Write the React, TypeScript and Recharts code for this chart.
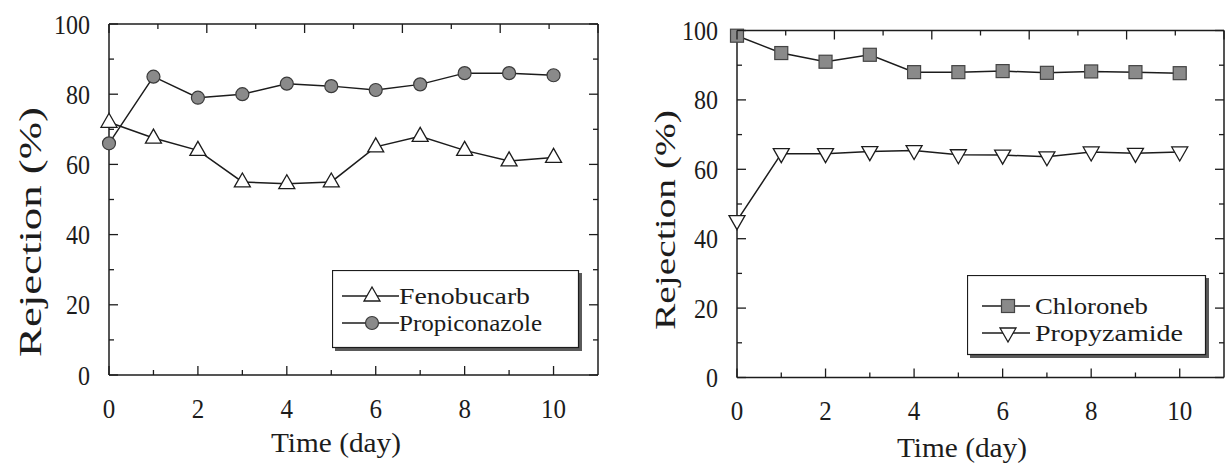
import React from "react";
import { LineChart, Line, XAxis, YAxis, Legend } from "recharts";

// rejection (%) per day of operation
const days = [0, 1, 2, 3, 4, 5, 6, 7, 8, 9, 10];
const fenobucarb = [72, 67.5, 64, 55, 54.5, 55, 65, 68, 64, 61, 62];
const propiconazole = [66, 85, 79, 80, 83, 82.3, 81.2, 82.8, 86, 86, 85.4];
const chloroneb = [98.5, 93.5, 91, 93, 88, 88, 88.3, 87.8, 88.2, 88, 87.7];
const propyzamide = [45.2, 64.5, 64.5, 65.1, 65.4, 64.2, 64.1, 63.6, 65, 64.6, 65];

const xTicks = [0, 1, 2, 3, 4, 5, 6, 7, 8, 9, 10];
const yTicks = [0, 10, 20, 30, 40, 50, 60, 70, 80, 90, 100];

const INK = "#1c1c1c";
const MARK_GREY = "#8a8a8a";
const SERIF = '"Liberation Serif", "Times New Roman", serif';

const leftData = days.map((d, i) => ({
  day: d,
  fenobucarb: fenobucarb[i],
  propiconazole: propiconazole[i],
}));
const rightData = days.map((d, i) => ({
  day: d,
  chloroneb: chloroneb[i],
  propyzamide: propyzamide[i],
}));

// markers
const triUp = (cx: number, cy: number, key?: React.Key) => (
  <polygon
    key={key}
    points={`${cx},${cy - 9} ${cx - 8},${cy + 5} ${cx + 8},${cy + 5}`}
    fill="#fff"
    stroke={INK}
    strokeWidth={1.3}
  />
);
const triDown = (cx: number, cy: number, key?: React.Key) => (
  <polygon
    key={key}
    points={`${cx - 8},${cy - 5} ${cx + 8},${cy - 5} ${cx},${cy + 9}`}
    fill="#fff"
    stroke={INK}
    strokeWidth={1.3}
  />
);
const disc = (cx: number, cy: number, key?: React.Key) => (
  <circle key={key} cx={cx} cy={cy} r={6.5} fill={MARK_GREY} stroke="#3a3a3a" strokeWidth={1.2} />
);
const square = (cx: number, cy: number, key?: React.Key) => (
  <rect
    key={key}
    x={cx - 6.5}
    y={cy - 6.5}
    width={13}
    height={13}
    fill={MARK_GREY}
    stroke="#444"
    strokeWidth={1.2}
  />
);

type Marker = (cx: number, cy: number, key?: React.Key) => React.ReactElement;
const dotOf = (m: Marker) => (p: any) => m(p.cx, p.cy, p.index);

// ticks point into the plot; labels only on the bottom/left axes
function BottomTick({ x, y, payload }: any) {
  const v = payload.value;
  const major = v % 2 === 0;
  return (
    <g>
      <line x1={x} x2={x} y1={y} y2={y - (major ? 9 : 5)} stroke={INK} strokeWidth={1.3} />
      {major && (
        <text
          x={x}
          y={y + 33}
          textAnchor="middle"
          dominantBaseline="central"
          fontSize={28}
          fontFamily={SERIF}
          fill={INK}
          textLength={String(v).length * 12.5}
          lengthAdjust="spacingAndGlyphs"
        >
          {v}
        </text>
      )}
    </g>
  );
}

function TopTick({ x, y, payload }: any) {
  const major = payload.value % 2 === 0;
  return <line x1={x} x2={x} y1={y} y2={y + (major ? 9 : 5)} stroke={INK} strokeWidth={1.3} />;
}

function LeftTick({ x, y, payload }: any) {
  const v = payload.value;
  const major = v % 20 === 0;
  return (
    <g>
      <line x1={x} x2={x + (major ? 9 : 5)} y1={y} y2={y} stroke={INK} strokeWidth={1.3} />
      {major && (
        <text
          x={x - 19}
          y={y}
          textAnchor="end"
          dominantBaseline="central"
          fontSize={28}
          fontFamily={SERIF}
          fill={INK}
          textLength={String(v).length * 12}
          lengthAdjust="spacingAndGlyphs"
        >
          {v}
        </text>
      )}
    </g>
  );
}

function RightTick({ x, y, payload }: any) {
  const major = payload.value % 20 === 0;
  return <line x1={x} x2={x - (major ? 9 : 5)} y1={y} y2={y} stroke={INK} strokeWidth={1.3} />;
}

const axisLine = { stroke: INK, strokeWidth: 1.5 };

interface LegendItem {
  name: string;
  marker: Marker;
  len: number;
}

function LegendBox({
  width,
  height,
  items,
  lineFrom,
  lineTo,
  markAt,
  textAt,
  rows,
}: {
  width: number;
  height: number;
  items: LegendItem[];
  lineFrom: number;
  lineTo: number;
  markAt: number;
  textAt: number;
  rows: number[];
}) {
  return (
    <svg width={width + 4} height={height + 4} style={{ display: "block" }}>
      <rect x={3} y={3} width={width} height={height} fill="#5a5a5a" />
      <rect x={0.5} y={0.5} width={width - 1} height={height - 1} fill="#fff" stroke={INK} strokeWidth={1.2} />
      {items.map((it, i) => (
        <g key={it.name}>
          <line x1={lineFrom} x2={lineTo} y1={rows[i]} y2={rows[i]} stroke={INK} strokeWidth={1.4} />
          {it.marker(markAt, rows[i])}
          <text
            x={textAt}
            y={rows[i]}
            dominantBaseline="central"
            fontSize={24}
            fontFamily={SERIF}
            fill={INK}
            textLength={it.len}
            lengthAdjust="spacingAndGlyphs"
          >
            {it.name}
          </text>
        </g>
      ))}
    </svg>
  );
}

const yTitle = (cx: number, cy: number, len: number, size: number) => () =>
  (
    <text
      transform={`translate(${cx},${cy}) rotate(-90)`}
      textAnchor="middle"
      dominantBaseline="central"
      fontSize={size}
      fontFamily={SERIF}
      fill={INK}
      textLength={len}
      lengthAdjust="spacingAndGlyphs"
    >
      Rejection (%)
    </text>
  );

const xTitle = (cx: number, cy: number) => () =>
  (
    <text
      x={cx}
      y={cy}
      textAnchor="middle"
      dominantBaseline="central"
      fontSize={28}
      fontFamily={SERIF}
      fill={INK}
      textLength={130}
      lengthAdjust="spacingAndGlyphs"
    >
      Time (day)
    </text>
  );

function Panel({
  data,
  width,
  margin,
  series,
  legendPos,
  legendProps,
  yTitleAt,
  xTitleAt,
}: any) {
  return (
    <LineChart width={width} height={465} data={data} margin={margin}>
      <XAxis
        dataKey="day"
        type="number"
        domain={[0, 11]}
        ticks={xTicks}
        interval={0}
        height={60}
        tickSize={0}
        tickMargin={0}
        tickLine={false}
        axisLine={axisLine}
        tick={<BottomTick />}
        label={xTitleAt}
      />
      <XAxis
        xAxisId="top"
        orientation="top"
        type="number"
        domain={[0, 11]}
        allowDataOverflow
        ticks={xTicks}
        interval={0}
        height={1}
        tickSize={0}
        tickMargin={0}
        tickLine={false}
        axisLine={axisLine}
        tick={<TopTick />}
      />
      <YAxis
        type="number"
        domain={[0, 100]}
        ticks={yTicks}
        interval={0}
        width={60}
        tickSize={0}
        tickMargin={0}
        tickLine={false}
        axisLine={axisLine}
        tick={<LeftTick />}
        label={yTitleAt}
      />
      <YAxis
        yAxisId="right"
        orientation="right"
        type="number"
        domain={[0, 100]}
        allowDataOverflow
        ticks={yTicks}
        interval={0}
        width={1}
        tickSize={0}
        tickMargin={0}
        tickLine={false}
        axisLine={axisLine}
        tick={<RightTick />}
      />
      {series.map((s: any) => (
        <Line
          key={s.key}
          dataKey={s.key}
          name={s.name}
          type="linear"
          stroke={INK}
          strokeWidth={1.5}
          dot={dotOf(s.marker)}
          activeDot={false}
          isAnimationActive={false}
        />
      ))}
      <Legend
        layout="horizontal"
        verticalAlign="middle"
        align="center"
        wrapperStyle={{ ...legendPos }}
        content={() => (
          <LegendBox
            {...legendProps}
            items={series.map((s: any) => ({ name: s.name, marker: s.marker, len: s.len }))}
          />
        )}
      />
    </LineChart>
  );
}

export default function App() {
  return (
    <div style={{ position: "absolute", left: 0, top: 0, width: 1226, height: 465, background: "#fff" }}>
      <div style={{ position: "absolute", left: 0, top: 0 }}>
        <Panel
          data={leftData}
          width={615}
          margin={{ top: 23, right: 16, bottom: 30, left: 49 }}
          series={[
            { key: "fenobucarb", name: "Fenobucarb", marker: triUp, len: 131 },
            { key: "propiconazole", name: "Propiconazole", marker: disc, len: 143 },
          ]}
          legendPos={{ left: 332, top: 270, width: 251, height: 82 }}
          legendProps={{
            width: 247,
            height: 78,
            lineFrom: 10,
            lineTo: 67,
            markAt: 40,
            textAt: 67,
            rows: [26, 53],
          }}
          yTitleAt={yTitle(30, 232, 250, 31)}
          xTitleAt={xTitle(336, 442)}
        />
      </div>
      <div style={{ position: "absolute", left: 615, top: 0 }}>
        <Panel
          data={rightData}
          width={611}
          margin={{ top: 29.5, right: 1, bottom: 27.5, left: 62 }}
          series={[
            { key: "chloroneb", name: "Chloroneb", marker: square, len: 113 },
            { key: "propyzamide", name: "Propyzamide", marker: triDown, len: 148 },
          ]}
          legendPos={{ left: 352, top: 275, width: 243, height: 84 }}
          legendProps={{
            width: 239,
            height: 80,
            lineFrom: 15,
            lineTo: 63,
            markAt: 41,
            textAt: 68,
            rows: [31, 58],
          }}
          yTitleAt={yTitle(50, 220, 220, 29)}
          xTitleAt={xTitle(347, 447)}
        />
      </div>
    </div>
  );
}
